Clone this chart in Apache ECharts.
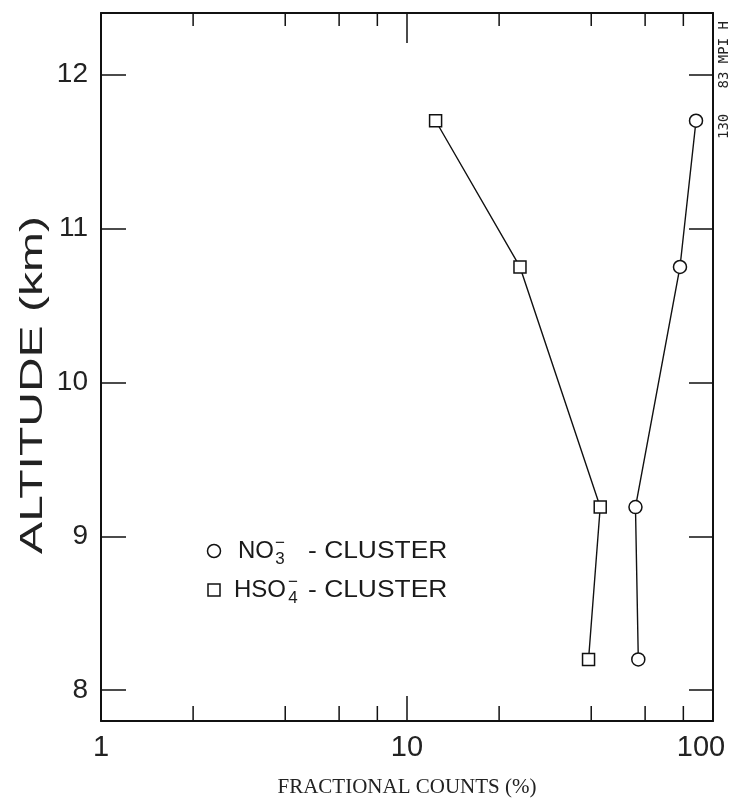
<!DOCTYPE html>
<html>
<head>
<meta charset="utf-8">
<script src="https://cdn.jsdelivr.net/npm/echarts@6/dist/echarts.min.js"></script>
<style>
  html, body { margin: 0; padding: 0; background: #fff; }
  #chart { width: 743px; height: 803px; }
</style>
</head>
<body>
<div id="chart"></div>
<script>
// altitude (km) for each measurement level
const altitudes = [11.7, 10.75, 9.19, 8.2]

// fractional counts (%) per cluster type
const no3Counts = [88, 78, 55.8, 57]
const hso4Counts = [12.4, 23.4, 42.8, 39.2]

// minor tick positions on the log axis
const minorTicks = [2, 4, 6, 8, 20, 40, 60, 80]

// legend rows: ion formula, subscript, symbol
const legendRows = [
  { ion: 'NO', sub: '3', icon: 'circle', textX: 24, subX: 66 },
  { ion: 'HSO', sub: '4', icon: 'rect', textX: 20, subX: 79 }
]

const yMin = 7.8
const yMax = 12.4
const ink = '#111'
const tickFont = "'Liberation Sans', sans-serif"

const chart = echarts.init(document.getElementById('chart'))

// legend drawn as a graphic group so the charge sign can sit over the subscript
const legendGraphic = legendRows.map((row, i) => {
  const textStyle = { fontFamily: 'Liberation Sans', fill: '#1a1a1a', verticalAlign: 'middle' }
  const icon = row.icon === 'circle'
    ? { type: 'circle', shape: { cx: 0, cy: 0, r: 6.5 }, style: { fill: '#fff', stroke: ink, lineWidth: 1.5 } }
    : { type: 'rect', shape: { x: -6, y: -6, width: 12, height: 12 }, style: { fill: '#fff', stroke: ink, lineWidth: 1.5 } }
  return {
    type: 'group',
    x: 214,
    y: 551 + i * 39,
    children: [
      icon,
      { type: 'text', x: row.textX, y: 0, style: { ...textStyle, text: row.ion, fontSize: 24 } },
      { type: 'text', x: row.subX, y: 8, style: { ...textStyle, text: row.sub, fontSize: 17, align: 'center' } },
      { type: 'text', x: row.subX, y: -8, style: { ...textStyle, text: '\u2212', fontSize: 17, align: 'center' } },
      { type: 'text', x: 94, y: 0, scaleX: 1.1, style: { ...textStyle, text: '- CLUSTER', fontSize: 24 } }
    ]
  }
})

const option = {
  backgroundColor: '#fff',
  animation: false,

  grid: {
    left: 101,
    right: 30,
    top: 13,
    bottom: 81
  },

  xAxis: [
    {
      type: 'log',
      logBase: 10,
      min: 1,
      max: 100,
      name: 'FRACTIONAL COUNTS (%)',
      nameLocation: 'middle',
      nameGap: 56,
      nameTextStyle: { fontFamily: 'Liberation Serif', fontSize: 21, color: '#222' },
      axisLine: { lineStyle: { color: ink, width: 2 } },
      axisTick: { inside: true, length: 25, lineStyle: { color: ink, width: 1.5 } },
      axisLabel: {
        fontFamily: tickFont,
        fontSize: 29,
        color: '#222',
        margin: 12,
        formatter: v => (v === 100 ? '{r|100}' : String(v)),
        rich: { r: { fontFamily: tickFont, fontSize: 29, color: '#222', padding: [0, 24, 0, 0] } }
      },
      splitLine: { show: false }
    },
    {
      type: 'log',
      logBase: 10,
      min: 1,
      max: 100,
      position: 'top',
      axisLine: { lineStyle: { color: ink, width: 2 } },
      axisTick: { inside: true, length: 30, lineStyle: { color: ink, width: 1.5 } },
      axisLabel: { show: false },
      splitLine: { show: false }
    }
  ],

  yAxis: [
    {
      type: 'value',
      min: yMin,
      max: yMax,
      minInterval: 1,
      maxInterval: 1,
      axisLine: { lineStyle: { color: ink, width: 2 } },
      axisTick: { inside: true, length: 25, lineStyle: { color: ink, width: 1.5 } },
      axisLabel: {
        fontFamily: tickFont,
        fontSize: 28,
        color: '#222',
        margin: 13,
        showMinLabel: false,
        showMaxLabel: false,
        formatter: v => (Number.isInteger(v) ? String(v) : '')
      },
      splitLine: { show: false }
    },
    {
      type: 'value',
      min: yMin,
      max: yMax,
      minInterval: 1,
      maxInterval: 1,
      position: 'right',
      axisLine: { lineStyle: { color: ink, width: 2 } },
      axisTick: { inside: true, length: 24, lineStyle: { color: ink, width: 1.5 } },
      axisLabel: { show: false },
      splitLine: { show: false }
    }
  ],

  graphic: [
    {
      // y axis title, stretched like the plotter lettering
      type: 'text',
      x: 33,
      y: 385,
      rotation: Math.PI / 2,
      scaleX: 1.5,
      style: {
        text: 'ALTITUDE (km)',
        fontFamily: 'Liberation Sans',
        fontSize: 32,
        fill: '#222',
        align: 'center',
        verticalAlign: 'middle'
      }
    },
    {
      type: 'text',
      x: 724,
      y: 80,
      rotation: Math.PI / 2,
      style: {
        text: '130   83 MPI H',
        fontFamily: 'DejaVu Sans Mono',
        fontSize: 14,
        fill: '#222',
        align: 'center',
        verticalAlign: 'middle'
      }
    },
    ...legendGraphic
  ],

  series: [
    {
      name: 'NO3- cluster',
      type: 'line',
      data: no3Counts.map((v, i) => [v, altitudes[i]]),
      symbol: 'circle',
      symbolSize: 13,
      lineStyle: { color: ink, width: 1.4 },
      itemStyle: { color: '#fff', borderColor: ink, borderWidth: 1.5 },
      z: 3
    },
    {
      name: 'HSO4- cluster',
      type: 'line',
      data: hso4Counts.map((v, i) => [v, altitudes[i]]),
      symbol: 'rect',
      symbolSize: 12,
      lineStyle: { color: ink, width: 1.4 },
      itemStyle: { color: '#fff', borderColor: ink, borderWidth: 1.5 },
      z: 3
    },
    {
      // minor ticks on bottom and top axes
      type: 'custom',
      silent: true,
      clip: false,
      data: minorTicks.map(v => [v, yMin]),
      renderItem: (params, api) => {
        const v = api.value(0)
        const b = api.coord([v, yMin])
        const t = api.coord([v, yMax])
        const style = { stroke: ink, lineWidth: 1.5 }
        return {
          type: 'group',
          children: [
            { type: 'line', shape: { x1: b[0], y1: b[1], x2: b[0], y2: b[1] - 15 }, style },
            { type: 'line', shape: { x1: t[0], y1: t[1], x2: t[0], y2: t[1] + 13 }, style }
          ]
        }
      }
    }
  ]
}

chart.setOption(option)
</script>
</body>
</html>
